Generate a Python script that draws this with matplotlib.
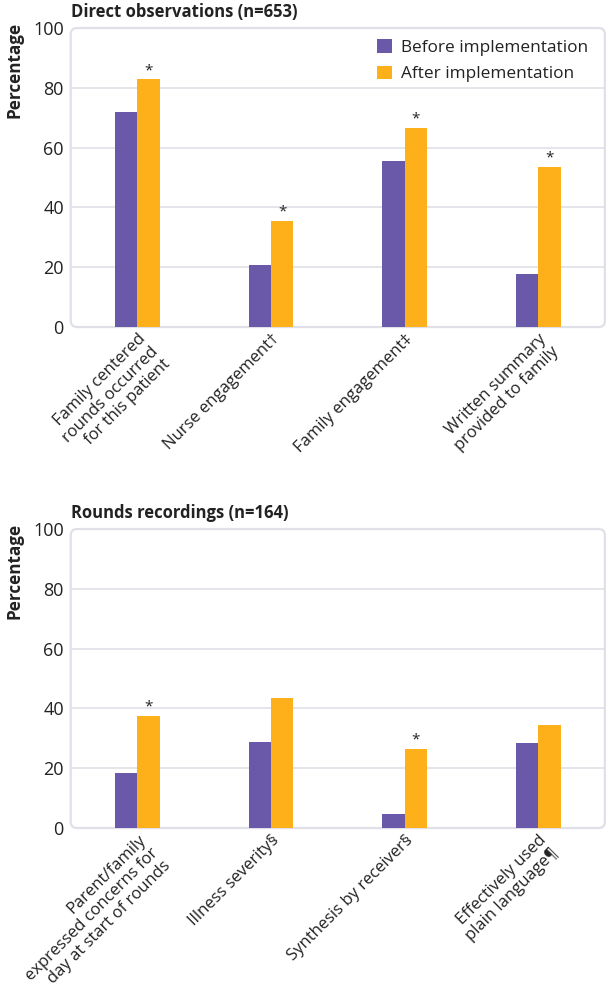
import matplotlib.pyplot as plt
from matplotlib.patches import FancyBboxPatch
import numpy as np

plt.rcParams["font.family"] = ["Open Sans", "DejaVu Sans"]

# --- data ---
top_title = "Direct observations (n=653)"
top_labels = ["Family centered\nrounds occurred\nfor this patient",
              "Nurse engagement\u2020",
              "Family engagement\u2021",
              "Written summary\nprovided to family"]
top_before = [72.0, 20.6, 55.5, 17.9]
top_after = [82.8, 35.4, 66.5, 53.6]
top_signif = [True, True, True, True]

bottom_title = "Rounds recordings (n=164)"
bottom_labels = ["Parent/family\nexpressed concerns for\nday at start of rounds",
                 "Illness severity\u00a7",
                 "Synthesis by receiver\u00a7",
                 "Effectively used\nplain language\u00b6"]
bottom_before = [18.3, 28.7, 4.7, 28.6]
bottom_after = [37.6, 43.6, 26.4, 34.6]
bottom_signif = [True, False, True, False]

series_names = ["Before implementation", "After implementation"]
yticks = [0, 20, 40, 60, 80, 100]

PURPLE = "#6a59a8"
ORANGE = "#fdb01a"
GRID = "#dfe0e8"
TEXT = "#222222"


def panel(ax, title, labels, before, after, signif, legend=False):
    x = np.arange(len(labels))
    w = 0.168
    ax.bar(x - w / 2, before, w, color=PURPLE, label=series_names[0], zorder=3)
    ax.bar(x + w / 2, after, w, color=ORANGE, label=series_names[1], zorder=3)
    for xi, val, star in zip(x, after, signif):
        if star:
            ax.annotate("*", (xi + w / 2, val), xytext=(0, 1),
                        textcoords="offset points", ha="center", va="bottom",
                        fontsize=11, color=TEXT)

    ax.set_xlim(-0.5, 3.5)
    ax.set_ylim(0, 100)
    ax.set_yticks(yticks)
    for gy in yticks[1:-1]:
        ax.axhline(gy, color=GRID, lw=1.2, zorder=1)
    for s in ax.spines.values():
        s.set_visible(False)
    box = FancyBboxPatch((0, 0), 1, 1, boxstyle="round,pad=0,rounding_size=0.012",
                         transform=ax.transAxes, fill=False, ec=GRID, lw=1.6,
                         clip_on=False, zorder=2,
                         mutation_aspect=534 / 299)
    ax.add_patch(box)

    ax.tick_params(axis="y", length=0, pad=5, labelsize=13, colors=TEXT)
    ax.tick_params(axis="x", length=0, pad=3)
    ax.set_xticks(x)
    ax.set_xticklabels(labels, rotation=45, ha="right", va="top",
                       rotation_mode="anchor", fontsize=12, color=TEXT,
                       multialignment="right", linespacing=1.15)

    ax.set_title(title, loc="left", fontsize=12, fontweight="bold",
                 pad=8, color=TEXT)
    ax.set_ylabel("Percentage", fontsize=12.3, fontweight="bold",
                  color=TEXT, loc="top")
    ax.yaxis.set_label_coords(-0.088, 1.02)

    if legend:
        ax.legend(loc="upper right", frameon=False, fontsize=12.4,
                  handlelength=0.85, handleheight=0.85, handletextpad=0.55,
                  labelspacing=0.55, borderaxespad=0.25,
                  bbox_to_anchor=(0.99, 1.0), labelcolor=TEXT)


fig = plt.figure(figsize=(6.06, 10.01), dpi=100)
ax1 = fig.add_axes([0.1167, 0.6733, 0.8815, 0.2987])
ax2 = fig.add_axes([0.1167, 0.1728, 0.8815, 0.2987])

panel(ax1, top_title, top_labels, top_before, top_after, top_signif, legend=True)
panel(ax2, bottom_title, bottom_labels, bottom_before, bottom_after, bottom_signif)

fig.savefig("out.png", dpi=100)
plt.close(fig)
